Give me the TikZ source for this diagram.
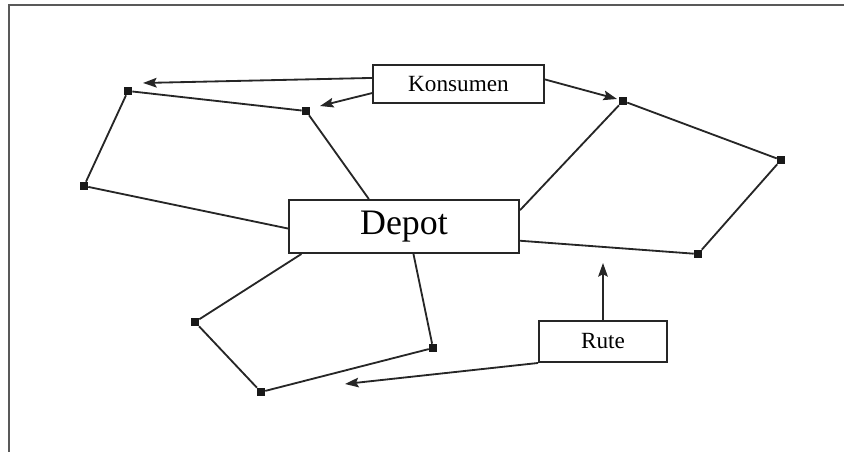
\documentclass[tikz,border=0pt]{standalone}
\usepackage{fontspec}
\setmainfont{Liberation Serif}
\usetikzlibrary{arrows.meta}

\begin{document}
\begin{tikzpicture}[
        x=0.025cm, y=-0.025cm,
        box/.style={
          draw=black!85,
          line width=1.4pt,
          fill=white,
          inner sep=0pt,
          align=center
        },
        infobox/.style={box, font=\fontsize{16.5}{20}\selectfont},
        stop/.style={fill=black!90, inner sep=0pt, minimum size=0.2cm},
        route/.style={draw=black!85, line width=1.3pt},
        pointer/.style={route, -{Stealth[length=0.34cm, width=0.24cm, inset=0.06cm]}},
        pageframe/.style={draw=black!65, line width=0.9pt}
      ]
      \useasboundingbox (0,0) rectangle (844,452);
      \draw[pageframe] (844,5) -- (9,5) -- (9,452);

      \node[box, font=\fontsize{25.5}{30}\selectfont,
        minimum width=5.75cm, minimum height=1.325cm] (depot) at (404,226.5)
        {Depot};
      \node[infobox, minimum width=4.275cm, minimum height=0.95cm]
        (konsumen) at (458.5,84) {Konsumen};
      \node[infobox, minimum width=3.2cm, minimum height=1.025cm]
        (rute) at (603,341.5) {Rute};

      \node[stop] (c1) at (128,91) {};
      \node[stop] (c2) at (306,111) {};
      \node[stop] (c3) at (84,186) {};
      \node[stop] (c4) at (623,101) {};
      \node[stop] (c5) at (781,160) {};
      \node[stop] (c6) at (698,254) {};
      \node[stop] (c7) at (195,322) {};
      \node[stop] (c8) at (261,392) {};
      \node[stop] (c9) at (433,348) {};

      \coordinate (tipA) at (143,83);
      \coordinate (tipB) at (320,106);
      \coordinate (tipC) at (617,99);
      \coordinate (tipD) at (603,263);
      \coordinate (tipE) at (345,384);

      \draw[route] (depot.181) -- (c3) -- (c1) -- (c2) -- (depot.142);
      \draw[route] (depot.8) -- (c4) -- (c5) -- (c6) -- (depot.-7);
      \draw[route] (depot.195) -- (c7) -- (c8) -- (c9) -- (depot.-71);

      \draw[pointer] (konsumen.176) -- (tipA);
      \draw[pointer] (konsumen.186) -- (tipB);
      \draw[pointer] (konsumen.3) -- (tipC);
      \draw[pointer] (rute.north) -- (tipD);
      \draw[pointer] (rute.south west) -- (tipE);
    \end{tikzpicture}
\end{document}
